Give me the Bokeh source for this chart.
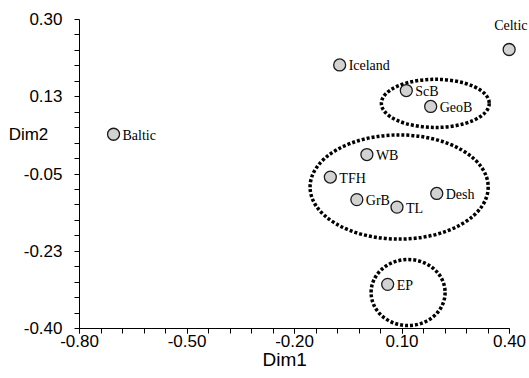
from bokeh.plotting import figure
from bokeh.models import ColumnDataSource, FixedTicker, Range1d, LabelSet, Title
from bokeh.core.properties import value
from bokeh.embed import file_html
from bokeh.resources import INLINE

# --- data ---
names = ["Baltic", "Iceland", "ScB", "GeoB", "WB", "TFH", "GrB", "TL", "Desh", "EP"]
dim1 = [-0.705, -0.074, 0.112, 0.180, 0.002, -0.100, -0.026, 0.086, 0.197, 0.060]
dim2 = [0.040, 0.197, 0.139, 0.103, -0.006, -0.057, -0.108, -0.125, -0.094, -0.300]

top_names = ["Celtic"]
top_dim1 = [0.399]
top_dim2 = [0.232]

# groups (dotted ellipses)
group_x = [0.193, 0.092, 0.117]
group_y = [0.110, -0.0795, -0.3185]
group_w = [0.301, 0.497, 0.2065]
group_h = [0.109, 0.236, 0.1495]

x_ticks = [-0.80, -0.50, -0.20, 0.10, 0.40]
x_tick_labels = ["-0.80", "-0.50", "-0.20", "0.10", "0.40"]
y_ticks = [0.30, 0.125, -0.05, -0.225, -0.40]
y_tick_labels = ["0.30", "0.13", "-0.05", "-0.23", "-0.40"]
x_minor = [round(-0.80 + 0.06 * i, 4) for i in range(21)]
y_minor = [round(-0.40 + 0.035 * i, 4) for i in range(21)]

x_title = "Dim1"
y_title = "Dim2"
y_title_at = 0.0395   # vertical position of the horizontal y-axis title (data units)

W, H = 529, 378
LEFT, TOP, BOTTOM = 79, 19, 50
px_per_x = 430 / 1.2

p = figure(width=W, height=H, output_backend="svg", toolbar_location=None,
           x_range=Range1d(-0.8, -0.8 + (W - LEFT) / px_per_x), y_range=Range1d(-0.40, 0.30),
           min_border_left=LEFT, min_border_right=0, min_border_top=TOP, min_border_bottom=BOTTOM)
p.outline_line_color = None
p.xgrid.visible = False
p.ygrid.visible = False
p.background_fill_color = "white"
p.border_fill_color = "white"

# ellipses
p.ellipse(x=group_x, y=group_y, width=group_w, height=group_h,
          fill_alpha=0, line_color="black", line_width=3.5, line_dash="3 2")

src = ColumnDataSource(dict(x=dim1 + top_dim1, y=dim2 + top_dim2))
p.scatter("x", "y", source=src, size=12, fill_color="#d2d2d2",
          line_color="#1a1a1a", line_width=1.3)

lab_src = ColumnDataSource(dict(x=dim1, y=dim2, t=names))
p.add_layout(LabelSet(x="x", y="y", text="t", source=lab_src, x_offset=9, y_offset=-1,
                      text_font=value("Liberation Serif"), text_font_size="14px",
                      text_baseline="middle", text_color="black"))
top_src = ColumnDataSource(dict(x=top_dim1, y=top_dim2, t=top_names))
p.add_layout(LabelSet(x="x", y="y", text="t", source=top_src, x_offset=-15, y_offset=24,
                      text_font=value("Liberation Serif"), text_font_size="14px",
                      text_baseline="middle", text_color="black"))

# axes
xa = p.xaxis[0]
xa.ticker = FixedTicker(ticks=x_ticks, minor_ticks=x_minor)
xa.major_label_overrides = dict(zip(x_ticks, x_tick_labels))
xa.bounds = (-0.80, 0.40)

ya = p.yaxis[0]
# the horizontal "Dim2" title sits among the y tick labels, as in the reference
ya.ticker = FixedTicker(ticks=y_ticks + [y_title_at], minor_ticks=y_minor)
overrides = dict(zip(y_ticks, y_tick_labels))
overrides[y_title_at] = y_title + "\u00a0\u00a0\u00a0"
ya.major_label_overrides = overrides

for ax in (xa, ya):
    ax.axis_line_color = "black"
    ax.axis_line_width = 1
    ax.major_tick_line_color = "black"
    ax.minor_tick_line_color = "black"
    ax.major_tick_in = 0
    ax.major_tick_out = 5
    ax.minor_tick_in = 0
    ax.minor_tick_out = 5
    ax.major_label_text_font = "Liberation Sans"
    ax.major_label_text_font_size = "17px"
    ax.major_label_text_color = "black"
xa.major_label_standoff = 1
ya.major_label_standoff = 12
ya.major_tick_line_color = None   # all y tick marks come from the minor ticks

# x-axis title placed below the axis
t = Title(text=x_title, align="left", offset=262 - LEFT, standoff=0,
          text_font="Liberation Sans", text_font_size="19px",
          text_font_style="normal", text_color="black")
try:
    t.standoff = -5
except Exception:
    pass
p.add_layout(t, "below")

open("out.html", "w").write(file_html(p, INLINE))
